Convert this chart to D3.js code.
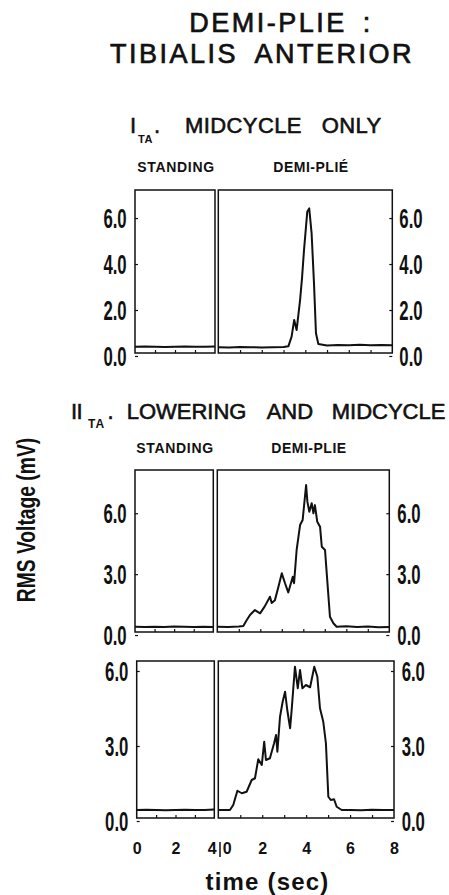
<!DOCTYPE html>
<html>
<head>
<meta charset="utf-8">
<script src="https://cdn.jsdelivr.net/npm/d3@7"></script>
<style>
  body { margin: 0; background: #fff; }
  text { font-family: "Liberation Sans", Arial, sans-serif; fill: #111; }
</style>
</head>
<body>
<script>
// ---- data ----
var standTime = [0, 0.5, 1, 1.5, 2, 2.5, 3, 3.5, 4];

// I_TA. midcycle only
var midStand = [0.40, 0.41, 0.40, 0.39, 0.40, 0.41, 0.40, 0.40, 0.41];
var midTime = [0, 0.5, 1, 1.5, 2, 2.5, 3, 3.22, 3.37, 3.49, 3.6, 3.76, 3.85, 3.94, 4.09, 4.18, 4.29, 4.4, 4.49, 4.6, 5, 5.5, 6, 6.5, 7, 7.5, 8];
var midRms = [0.38, 0.37, 0.39, 0.38, 0.37, 0.38, 0.39, 0.42, 0.84, 1.57, 1.13, 2.43, 3.4, 4.6, 6.27, 6.42, 5.33, 3.16, 0.99, 0.52, 0.46, 0.48, 0.47, 0.49, 0.47, 0.48, 0.47];

// II_TA. lowering and midcycle, trial A
var lowerAStand = [0.41, 0.40, 0.41, 0.40, 0.42, 0.41, 0.40, 0.41, 0.40];
var lowerATime = [0, 0.5, 1, 1.21, 1.35, 1.52, 1.75, 1.99, 2.2, 2.45, 2.53, 2.68, 2.85, 3.0, 3.15, 3.3, 3.51, 3.57, 3.69, 3.85, 3.97, 4.13, 4.19, 4.28, 4.39, 4.47, 4.54, 4.65, 4.78, 4.86, 5.01, 5.09, 5.24, 5.4, 5.55, 6, 6.5, 7, 7.5, 8];
var lowerARms = [0.41, 0.40, 0.42, 0.45, 0.70, 0.99, 1.23, 1.07, 1.40, 1.89, 1.58, 1.72, 2.40, 3.04, 2.55, 2.10, 2.87, 2.55, 4.19, 5.42, 5.67, 7.39, 6.57, 6.07, 6.49, 6.00, 6.40, 5.58, 5.33, 4.35, 4.19, 3.04, 0.90, 0.58, 0.41, 0.43, 0.40, 0.42, 0.39, 0.40];

// II_TA. lowering and midcycle, trial B
var lowerBStand = [0.44, 0.45, 0.44, 0.43, 0.44, 0.45, 0.44, 0.44, 0.46];
var lowerBTime = [0, 0.53, 0.68, 0.87, 1.07, 1.29, 1.52, 1.67, 1.82, 1.98, 2.09, 2.17, 2.35, 2.54, 2.63, 2.69, 2.81, 2.93, 3.04, 3.14, 3.27, 3.34, 3.49, 3.62, 3.72, 3.83, 3.99, 4.18, 4.37, 4.51, 4.63, 4.78, 4.9, 5.01, 5.12, 5.27, 5.39, 5.62, 6, 6.5, 7, 7.5, 8];
var lowerBRms = [0.44, 0.44, 0.64, 1.21, 1.11, 1.17, 1.64, 1.71, 2.47, 2.24, 3.17, 2.44, 2.51, 3.11, 3.44, 2.77, 4.17, 4.77, 5.17, 4.44, 3.71, 4.44, 6.17, 5.31, 6.04, 5.31, 5.44, 5.35, 6.17, 5.77, 4.51, 3.97, 3.11, 0.97, 0.84, 0.87, 0.57, 0.44, 0.44, 0.43, 0.45, 0.44, 0.44];

var ticksI = [0, 2, 4, 6];
var ticksII = [0, 3, 6];
var standTicks = [0, 2, 4];
var plieTicks = [0, 2, 4, 6, 8];

// ---- layout ----
var W = 449, H = 895;
var svg = d3.select("body").append("svg").attr("width", W).attr("height", H);

var panels = [
    { stand: midStand, time: midTime, rms: midRms, ticks: ticksI, yDomain: [0.13, 7.22],
      sx: [135, 215], px: [218.3, 392.3], top: 190, bottom: 353, labL: 115, labR: 411, xLabels: false },
    { stand: lowerAStand, time: lowerATime, rms: lowerARms, ticks: ticksII, yDomain: [0.15, 8.13],
      sx: [135, 213.3], px: [217.3, 389.3], top: 470, bottom: 632, labL: 115, labR: 409, xLabels: false },
    { stand: lowerBStand, time: lowerBTime, rms: lowerBRms, ticks: ticksII, yDomain: [0.12, 6.4],
      sx: [136.7, 214.3], px: [218.3, 394], top: 661, bottom: 818, labL: 116.7, labR: 413.3, xLabels: true }
];

var squeeze = 0.62; // tick labels in the figure are a narrow face

panels.forEach(function (p) {
    var y = d3.scaleLinear().domain(p.yDomain).range([p.bottom, p.top]);
    var xs = d3.scaleLinear().domain([0, 4]).range(p.sx);
    var xd = d3.scaleLinear().domain([0, 8]).range(p.px);

    // frames
    [p.sx, p.px].forEach(function (r) {
        svg.append("rect").attr("x", r[0]).attr("y", p.top)
            .attr("width", r[1] - r[0]).attr("height", p.bottom - p.top)
            .attr("fill", "none").attr("stroke", "#111").attr("stroke-width", 1.5);
    });

    // inward ticks along the bottom
    var bs = svg.append("g").attr("transform", "translate(0," + p.bottom + ")")
        .call(d3.axisBottom(xs).tickValues([1, 2, 3]).tickSize(-3).tickFormat(""));
    var bp = svg.append("g").attr("transform", "translate(0," + p.bottom + ")")
        .call(d3.axisBottom(xd).tickValues([1, 2, 3, 4, 5, 6, 7]).tickSize(-3).tickFormat(""));
    [bs, bp].forEach(function (g) {
        g.select(".domain").remove();
        g.selectAll("line").attr("stroke", "#111").attr("stroke-width", 1.2);
    });

    // y axes, left of standing box and right of demi-plie box
    var fmt = d3.format(".1f");
    var gl = svg.append("g").attr("transform", "translate(" + p.sx[0] + ",0)")
        .call(d3.axisLeft(y).tickValues(p.ticks).tickSize(-3).tickFormat(fmt));
    var gr = svg.append("g").attr("transform", "translate(" + p.px[1] + ",0)")
        .call(d3.axisRight(y).tickValues(p.ticks).tickSize(-3).tickFormat(fmt));
    gl.selectAll("text").attr("x", (p.labL - p.sx[0]) / squeeze);
    gr.selectAll("text").attr("x", (p.labR - p.px[1]) / squeeze);
    [gl, gr].forEach(function (g) {
        g.select(".domain").remove();
        g.selectAll("line").attr("stroke", "#111").attr("stroke-width", 1.2);
        g.selectAll("text").attr("text-anchor", "middle").attr("dy", "0.36em")
            .attr("transform", "scale(" + squeeze + ",1)")
            .style("font-size", "27px").style("font-weight", "bold").style("fill", "#111");
    });

    // traces
    var line = function (x) {
        return d3.line().x(function (d) { return x(d[0]); }).y(function (d) { return y(d[1]); });
    };
    svg.append("path").datum(d3.zip(standTime, p.stand)).attr("d", line(xs))
        .attr("fill", "none").attr("stroke", "#111").attr("stroke-width", 2);
    svg.append("path").datum(d3.zip(p.time, p.rms)).attr("d", line(xd))
        .attr("fill", "none").attr("stroke", "#111").attr("stroke-width", 2).attr("stroke-linejoin", "round");

    if (p.xLabels) {
        var ax1 = svg.append("g").attr("transform", "translate(0," + p.bottom + ")")
            .call(d3.axisBottom(xs).tickValues(standTicks).tickSize(0).tickFormat(d3.format("d")));
        var ax2 = svg.append("g").attr("transform", "translate(0," + p.bottom + ")")
            .call(d3.axisBottom(xd).tickValues(plieTicks).tickSize(0).tickFormat(d3.format("d")));
        [ax1, ax2].forEach(function (g) {
            g.select(".domain").remove();
            g.selectAll("text").attr("y", 854 - p.bottom).attr("dy", 0)
                .style("font-size", "16px").style("font-weight", "bold").style("fill", "#111");
        });
        ax1.selectAll("text").filter(function (d) { return d === 4; }).attr("dx", -2.6);
        ax2.selectAll("text").filter(function (d) { return d === 0; }).attr("dx", 8.4);
        svg.append("line").attr("x1", 220).attr("x2", 220).attr("y1", 842).attr("y2", 857)
            .attr("stroke", "#111").attr("stroke-width", 1.5);
    }
});

// ---- texts ----
function label(x, y, str, size, opts) {
    opts = opts || {};
    var t = svg.append("text").attr("x", x).attr("y", y).text(str)
        .style("font-size", size + "px")
        .style("font-weight", opts.weight || "normal")
        .attr("text-anchor", opts.anchor || "start");
    if (opts.spacing) t.style("letter-spacing", opts.spacing + "px");
    if (opts.word) t.style("word-spacing", opts.word + "px");
    if (opts.stroke) t.attr("stroke", "#111").attr("stroke-width", opts.stroke);
    return t;
}

label(281, 31.7, "DEMI-PLIE :", 27, { anchor: "middle", spacing: 2.5, word: 6, stroke: 0.7 });
label(262, 62.7, "TIBIALIS ANTERIOR", 27, { anchor: "middle", spacing: 2.5, word: 8, stroke: 0.7 });

// panel I heading
label(130, 133, "I", 22, { stroke: 0.6 });
label(138, 143, "TA", 11, { weight: "bold", spacing: 0.5 });
label(154, 133, ".", 22, { stroke: 0.6 });
label(185, 133, "MIDCYCLE", 22, { spacing: 0.4, stroke: 0.6 });
label(321.7, 133, "ONLY", 22, { spacing: 0.4, stroke: 0.6 });
label(176, 171.5, "STANDING", 14, { anchor: "middle", weight: "bold", spacing: 0.7 });
label(311, 171.5, "DEMI-PLIÉ", 14, { anchor: "middle", weight: "bold", spacing: 0.5 });

// panel II heading
label(71, 419.3, "II", 22, { stroke: 0.6, spacing: -0.5 });
label(88, 428.3, "TA", 12, { weight: "bold", spacing: 1 });
label(107.5, 419.3, ".", 22, { stroke: 0.6 });
label(126.7, 419.3, "LOWERING", 22, { stroke: 0.6 });
label(266.7, 419.3, "AND", 22, { stroke: 0.6 });
label(331.7, 419.3, "MIDCYCLE", 22, { stroke: 0.6 });
label(175, 452.7, "STANDING", 14, { anchor: "middle", weight: "bold", spacing: 0.7 });
label(309, 452.7, "DEMI-PLIE", 14, { anchor: "middle", weight: "bold", spacing: 0.5 });

// axis titles
svg.append("text").attr("transform", "translate(35,520) rotate(-90) scale(0.77,1)")
    .attr("text-anchor", "middle").style("font-size", "25px").style("font-weight", "bold")
    .text("RMS Voltage (mV)");
label(267.5, 890, "time (sec)", 24, { anchor: "middle", weight: "bold", spacing: 1.2 });
</script>
</body>
</html>
